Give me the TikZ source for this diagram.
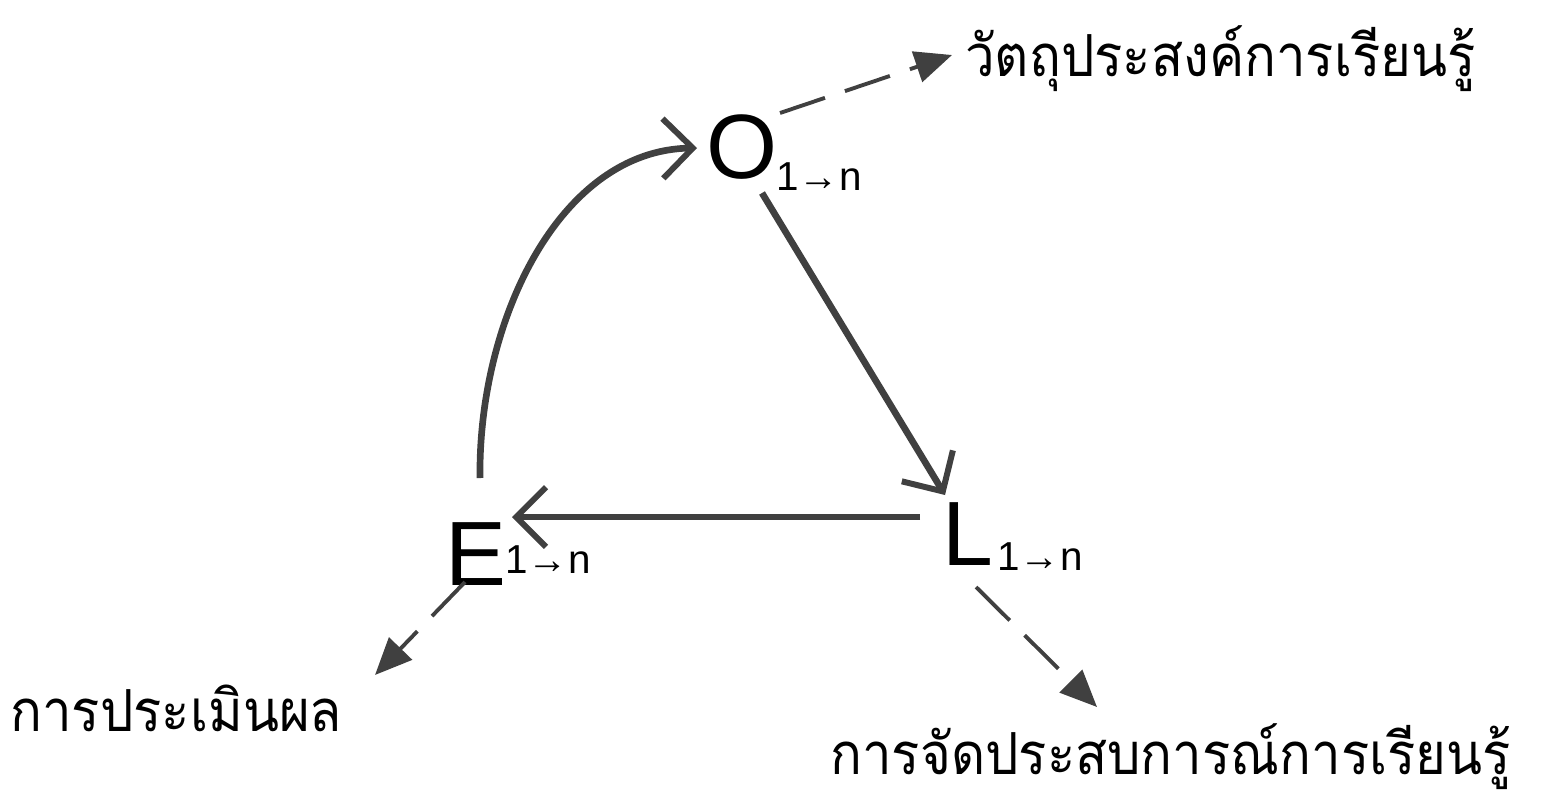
\documentclass[tikz,border=0pt]{standalone}
\usepackage{fontspec}
\setmainfont{Liberation Sans}
\newfontfamily\thaifont[Script=Thai]{Loma}
\usetikzlibrary{arrows.meta}
\definecolor{ln}{HTML}{404040}
\begin{document}
\begin{tikzpicture}[x=0.02cm,y=-0.02cm,
  letter/.style={inner sep=0pt,font=\fontsize{52}{52}\selectfont},
  sub/.style={inner sep=0pt,font=\fontsize{23}{23}\selectfont},
  thai/.style={inner sep=0pt,font=\thaifont\fontsize{30}{36}\selectfont},
  mainarrow/.style={draw=ln,line width=3.8pt,-{Straight Barb[length=17pt,width=34pt,line width=3.4pt]}},
  dasharrow/.style={draw=ln,line width=2.2pt,dash pattern=on 27pt off 12pt,-{Triangle[length=21pt,width=18pt]}}]
\useasboundingbox (0,0) rectangle (1561,805);
% letters
\node[letter,anchor=base] (O) at (742,178) {O};
\node[sub,anchor=base west] (Os) at (776,190) {1→n};
\node[letter,anchor=base] (E) at (476,585) {E};
\node[sub,anchor=base west] (Es) at (505,573) {1→n};
\node[letter,anchor=base] (L) at (968,565) {L};
\node[sub,anchor=base west] (Ls) at (997,570) {1→n};
% thai labels
\node[thai,anchor=base west] (tO) at (965,76) {\scalebox{1}[1.1]{วัตถุประสงค์การเรียนรู้}};
\node[thai,anchor=base west] (tE) at (10,731) {\scalebox{1}[1.1]{การประเมินผล}};
\node[thai,anchor=base west] (tL) at (830,774) {\scalebox{1}[1.1]{การจัดประสบการณ์การเรียนรู้}};
% coordinates
\coordinate (e1) at (480,478);
\coordinate (o1) at (697,148);
\coordinate (o2) at (762,193);
\coordinate (l1) at (945,495);
\coordinate (l2) at (920,517);
\coordinate (e2) at (512,517);
\coordinate (od) at (780,113);
\coordinate (ot) at (952,55);
\coordinate (ed) at (465,582);
\coordinate (et) at (375,675);
\coordinate (ld) at (976,587);
\coordinate (lt) at (1097,707);
% connectors
\draw[mainarrow] (e1) .. controls (478,320) and (560,150) .. (o1);
\draw[mainarrow] (o2) -- (l1);
\draw[mainarrow] (l2) -- (e2);
\draw[dasharrow] (od) -- (ot);
\draw[dasharrow] (ed) -- (et);
\draw[dasharrow] (ld) -- (lt);
\end{tikzpicture}
\end{document}
